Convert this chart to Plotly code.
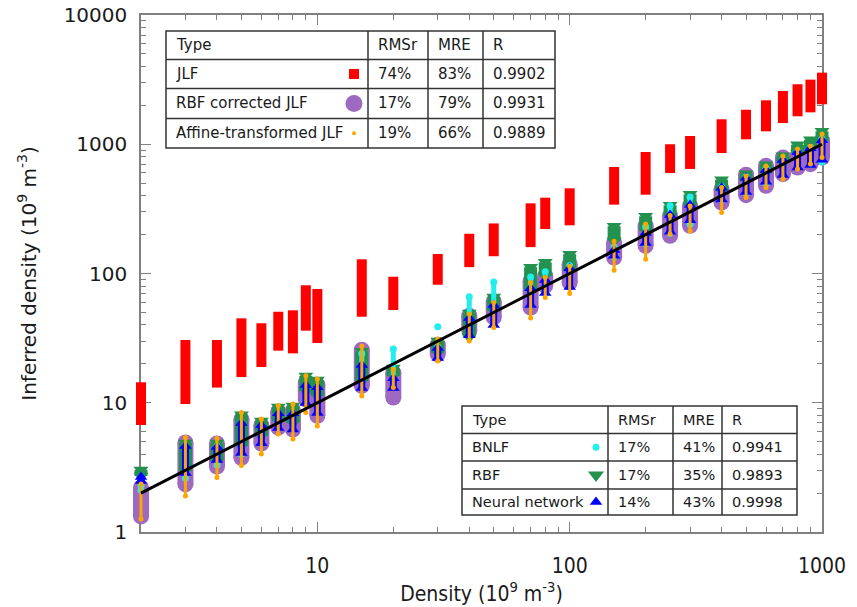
import math
import plotly.graph_objects as go

# ---------------- data ----------------
density = [2, 3, 4, 5, 6, 7, 8, 9, 10, 15, 20, 30, 40, 50, 70, 80, 100,
           150, 200, 250, 300, 400, 500, 600, 700, 800, 900, 1000]

jlf_low = [6.73, 9.78, 13.1, 15.8, 18.9, 25.3, 24.1, 36.1, 29.0, 46.3, 52.2, 81.9, 112, 136,
           160, 221, 236, 341, 407, 599, 644, 855, 1092, 1259, 1459, 1645, 1766, 2038]
jlf_high = [14.4, 30.6, 30.6, 45.0, 41.2, 50.6, 51.9, 81.1, 75.9, 128.8, 94.4, 141.5, 203, 244,
            349, 386, 456, 667, 871, 1000, 1158, 1560, 1849, 2187, 2582, 2911, 3162, 3581]

rbfc_low = [1.32, 2.34, 3.21, 3.75, 4.84, 6.43, 6.21, 10.65, 7.93, 13.5, 10.98, 23.7, 36.0, 45.7,
            54.6, 80.4, 85.2, 133, 164, 196, 234, 354, 404, 477, 587, 661, 701, 789]
rbfc_high = [2.21, 4.93, 4.84, 7.46, 6.70, 8.56, 8.71, 14.3, 13.8, 25.7, 17.1, 28.1, 47.1, 60.7,
             87.8, 96.0, 118, 174, 234, 279, 334, 449, 581, 681, 789, 814, 863, 1064]

rbf_low = [2.71, 2.96, 3.54, 4.63, 5.53, 7.22, 6.97, 12.3, 11.3, 14.7, 16.1, 24.3, 32.3, 51.3,
           73.2, 95.7, 105, 179, 214, 279, 334, 435, 520, 600, 716, 855, 919, 1059]
rbf_high = [3.02, 4.88, 4.88, 8.08, 7.22, 9.27, 9.44, 16.1, 15.0, 25.0, 18.6, 30.0, 49.5, 65.8,
            112, 122, 141, 232, 277, 337, 410, 532, 592, 695, 815, 993, 1084, 1259]

bnlf_low = [2.1, 2.6, 3.3, 4.0, 5.0, 6.5, 6.5, 10.5, 8.5, 13.5, 14, 23, 34, 45,
            57, 72, 82, 135, 170, 205, 240, 370, 420, 500, 590, 670, 700, 730]
bnlf_high = [2.3, 4.6, 4.6, 7.0, 6.5, 8.2, 8.3, 13.5, 13, 24, 26, 27, 66, 86,
             94, 103, 115, 160, 230, 335, 390, 470, 560, 650, 760, 880, 950, 1100]
bnlf_extra_x = [30]
bnlf_extra_y = [38.8]

nn_low = [2.48, 2.86, 3.61, 4.08, 4.87, 6.37, 6.2, 9.95, 8.32, 13.0, 13.0, 22.2, 33.3, 40,
          57, 70.6, 78.6, 137, 172, 210, 258, 373, 427, 512, 577, 661, 692, 759]
nn_high = [2.66, 4.63, 4.55, 6.96, 6.7, 8.3, 8.3, 13.7, 13.2, 19.6, 15.5, 26.5, 45.2, 57,
           77, 89, 110, 152, 206, 283, 339, 460, 550, 631, 757, 871, 933, 1072]

aff_low = [1.26, 1.90, 2.64, 3.27, 4.01, 5.73, 5.24, 8.41, 6.61, 11.3, 13.1, 21.0, 30.0, 38.2,
           45.3, 65.2, 70.0, 106, 129, 202, 213, 296, 387, 463, 538, 643, 703, 789]
aff_high = [2.35, 5.38, 5.29, 8.41, 7.48, 9.52, 9.78, 16.2, 15.3, 27.5, 18.2, 31.1, 48.6, 59.7,
            85.2, 93.1, 114, 178, 241, 281, 333, 463, 568, 679, 811, 919, 970, 1200]

ideal_x = [2, 1000]
ideal_y = [2, 1000]

table1_rows = [["Type", "RMSr", "MRE", "R"],
               ["JLF", "74%", "83%", "0.9902"],
               ["RBF corrected JLF", "17%", "79%", "0.9931"],
               ["Affine-transformed JLF", "19%", "66%", "0.9889"]]
table2_rows = [["Type", "RMSr", "MRE", "R"],
               ["BNLF", "17%", "41%", "0.9941"],
               ["RBF", "17%", "35%", "0.9893"],
               ["Neural network", "14%", "43%", "0.9998"]]

x_major = [10, 100, 1000]
y_major = [1, 10, 100, 1000, 10000]
x_lim = [2, 1000]
y_lim = [1, 10000]

# ---------------- geometry ----------------
W, H = 857, 607
AX_L, AX_R, AX_T, AX_B = 141, 822, 15, 532          # frame in pixels
PAD_L, PAD_R, PAD_T, PAD_B = 20, 20, 10, 20          # room for marks beyond the frame
L, R = AX_L - PAD_L, W - (AX_R + PAD_R)
T, B = AX_T - PAD_T, H - (AX_B + PAD_B)
PW, PH = W - L - R, H - T - B


def px(x):
    return (x - L) / PW


def py(y):
    return (H - B - y) / PH


lx0, lx1 = math.log10(x_lim[0]), math.log10(x_lim[1])
ly0, ly1 = math.log10(y_lim[0]), math.log10(y_lim[1])
kx = (lx1 - lx0) / (AX_R - AX_L)
ky = (ly1 - ly0) / (AX_B - AX_T)
data_xrange = [lx0 - PAD_L * kx, lx1 + PAD_R * kx]
data_yrange = [ly0 - PAD_B * ky, ly1 + PAD_T * ky]

fig = go.Figure()


def column_trace(lo, hi, color, width, symbol=None, msize=0):
    xs, ys = [], []
    for d, a, b in zip(density, lo, hi):
        xs += [d, d, None]
        ys += [a, b, None]
    fig.add_trace(go.Scatter(x=xs, y=ys, xaxis="x3", yaxis="y3", mode="lines",
                             line=dict(color=color, width=width),
                             hoverinfo="skip", showlegend=False))
    if symbol:
        mx, my = [], []
        for d, a, b in zip(density, lo, hi):
            mx += [d, d]
            my += [a, b]
        fig.add_trace(go.Scatter(x=mx, y=my, xaxis="x3", yaxis="y3", mode="markers",
                                 marker=dict(symbol=symbol, size=msize, color=color,
                                             line=dict(width=0)),
                                 hoverinfo="skip", showlegend=False))


RED = "#ff0000"
PURPLE = "#9e69c0"
GREEN = "#23924f"
BLUE = "#0000ff"
CYAN = "#22eeee"
ORANGE = "#ffa500"

# frame axes need at least one trace
fig.add_trace(go.Scatter(x=[], y=[], xaxis="x", yaxis="y", showlegend=False))

column_trace(jlf_low, jlf_high, RED, 10)
column_trace(rbfc_low, rbfc_high, PURPLE, 16, "circle", 16)
column_trace(rbf_low, rbf_high, GREEN, 13, "triangle-down", 13)
column_trace(bnlf_low, bnlf_high, CYAN, 5, "circle", 7)
fig.add_trace(go.Scatter(x=bnlf_extra_x, y=bnlf_extra_y, xaxis="x3", yaxis="y3", mode="markers",
                         marker=dict(size=7, color=CYAN), showlegend=False, hoverinfo="skip"))
column_trace(nn_low, nn_high, BLUE, 7, "triangle-up", 11)
column_trace(aff_low, aff_high, ORANGE, 3, "circle", 5)
fig.add_trace(go.Scatter(x=ideal_x, y=ideal_y, xaxis="x3", yaxis="y3", mode="lines",
                         line=dict(color="black", width=3), showlegend=False, hoverinfo="skip"))

# ---------------- tables ----------------
shapes = []
annotations = []
FONT = "Verdana, DejaVu Sans, sans-serif"


def draw_table(rows, left, right, cols, rowlines, marker_x, markers, fsize):
    shapes.append(dict(type="rect", xref="paper", yref="paper", x0=px(left), x1=px(right),
                       y0=py(rowlines[-1]), y1=py(rowlines[0]), fillcolor="white",
                       line=dict(color="#333333", width=1.5), layer="below"))
    for c in cols:
        shapes.append(dict(type="line", xref="paper", yref="paper", x0=px(c), x1=px(c),
                           y0=py(rowlines[-1]), y1=py(rowlines[0]),
                           line=dict(color="#333333", width=1.5), layer="below"))
    for r in rowlines[1:-1]:
        shapes.append(dict(type="line", xref="paper", yref="paper", x0=px(left), x1=px(right),
                           y0=py(r), y1=py(r), line=dict(color="#333333", width=1.5),
                           layer="below"))
    lefts = [left] + cols
    for i, row in enumerate(rows):
        yc = (rowlines[i] + rowlines[i + 1]) / 2
        for j, txt in enumerate(row):
            annotations.append(dict(xref="paper", yref="paper", x=px(lefts[j] + 8), y=py(yc),
                                    text=txt, showarrow=False, xanchor="left", yanchor="middle",
                                    font=dict(family=FONT, size=fsize, color="#1a1a1a")))
    for i, (sym, size, color) in enumerate(markers):
        yc = (rowlines[i + 1] + rowlines[i + 2]) / 2
        fig.add_trace(go.Scatter(x=[px(marker_x)], y=[py(yc)], xaxis="x2", yaxis="y2",
                                 mode="markers",
                                 marker=dict(symbol=sym, size=size, color=color,
                                             line=dict(width=0)),
                                 showlegend=False, hoverinfo="skip"))


draw_table(table1_rows, 166, 555, [368, 428, 483], [31, 59.5, 88.5, 118.5, 148], 354,
           [("square", 10, RED), ("circle", 17, PURPLE), ("circle", 4, ORANGE)], 15)
draw_table(table2_rows, 462, 797, [608, 673, 722], [406, 433.5, 461, 489, 515], 596,
           [("circle", 7, CYAN), ("triangle-down", 14, GREEN), ("triangle-up", 11, BLUE)], 14.5)

x_minor = [m * 10 ** k for k in range(0, 3) for m in range(2, 10) if 2 < m * 10 ** k < 1000]
y_minor = [m * 10 ** k for k in range(0, 4) for m in range(2, 10)]

AX = "#808080"
XFONT = "DejaVu Sans Condensed, Liberation Sans Narrow, Roboto, sans-serif"
xdom = [px(AX_L), px(AX_R)]
ydom = [py(AX_B), py(AX_T)]
fig.update_layout(
    width=W, height=H, margin=dict(l=L, r=R, t=T, b=B, autoexpand=False),
    paper_bgcolor="white", plot_bgcolor="rgba(0,0,0,0)",
    shapes=shapes, annotations=annotations,
    xaxis=dict(type="log", domain=xdom, range=[lx0, lx1], tickvals=x_major,
               ticktext=[str(v) for v in x_major], ticks="inside", ticklen=10, tickwidth=1,
               tickcolor=AX, showline=True, linecolor=AX, linewidth=1.5, mirror="ticks",
               showgrid=False, zeroline=False, anchor="y",
               minor=dict(tickvals=x_minor, ticks="inside", ticklen=5, tickcolor=AX, showgrid=False),
               tickfont=dict(family=XFONT, size=21, color="#1a1a1a"),
               ticklabelstandoff=14,
               title=dict(text="Density (10<sup>9</sup> m<sup>-3</sup>)", standoff=8,
                          font=dict(family=XFONT, size=21, color="#1a1a1a"))),
    yaxis=dict(type="log", domain=ydom, range=[ly0, ly1], tickvals=y_major,
               ticktext=[str(v) for v in y_major], ticks="inside", ticklen=10, tickwidth=1,
               tickcolor=AX, showline=True, linecolor=AX, linewidth=1.5, mirror="ticks",
               showgrid=False, zeroline=False, anchor="x",
               minor=dict(tickvals=y_minor, ticks="inside", ticklen=5, tickcolor=AX, showgrid=False),
               tickfont=dict(family=FONT, size=20, color="#1a1a1a"),
               ticklabelstandoff=8,
               title=dict(text="Inferred density (10<sup>9</sup> m<sup>-3</sup>)", standoff=22,
                          font=dict(family=FONT, size=20, color="#1a1a1a"))),
    xaxis3=dict(type="log", domain=[0, 1], range=data_xrange, anchor="y3", visible=False,
                fixedrange=True),
    yaxis3=dict(type="log", domain=[0, 1], range=data_yrange, anchor="x3", visible=False,
                fixedrange=True),
    xaxis2=dict(overlaying="x3", anchor="y2", range=[0, 1], visible=False, fixedrange=True),
    yaxis2=dict(overlaying="y3", anchor="x2", range=[0, 1], visible=False, fixedrange=True),
)

fig.write_html("out.html")
